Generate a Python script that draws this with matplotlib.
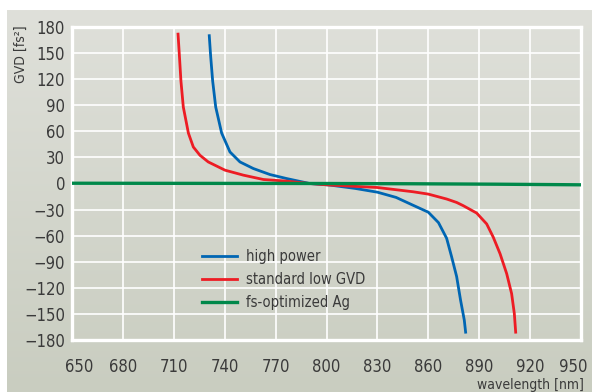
import numpy as np
import matplotlib
matplotlib.use("Agg")
import matplotlib.pyplot as plt
import matplotlib.transforms as mtransforms
from matplotlib.colors import LinearSegmentedColormap

# GVD curves read per mirror type
wl_high = [730.9, 731.7, 732.9, 734.7, 738.2, 743.1, 749, 756.9, 766.7, 776.5,
           790, 802, 817, 830, 841, 851, 860, 866, 870.8, 873.7, 876.7, 879,
           881.2, 882]
gvd_high = [170, 147, 118, 88, 58, 36.3, 24.8, 17.2, 10.3, 5.7,
            0, -1.8, -5.7, -10, -16, -25, -33, -45, -63, -84, -107, -134,
            -157, -171]

wl_std = [712.5, 713.3, 714.2, 715.6, 718.6, 721.5, 725.4, 730.3, 740.2, 751,
          762.8, 776.5, 790, 802, 830, 851, 860, 870.9, 876.7, 880.6, 888.5,
          894.4, 898.3, 902.3, 906.2, 909.1, 910.7, 911.5]
gvd_std = [171.8, 147, 118, 88, 58, 42, 32.5, 24.8, 15.3, 9.6,
           4.6, 2.7, 0, -1.8, -4.6, -9.5, -12.2, -17.9, -21.8, -25.5, -34,
           -46.5, -61.8, -80.8, -103.7, -126.6, -149.5, -171]

wl_ag = [650, 700, 750, 800, 850, 900, 950]
gvd_ag = [0.3, 0.2, 0.1, 0, -0.3, -0.8, -1.5]

x_ticks = [650, 680, 710, 740, 770, 800, 830, 860, 890, 920, 950]
y_ticks = [-180, -150, -120, -90, -60, -30, 0, 30, 60, 90, 120, 150, 180]

txt_color = "#3a3a3a"
plt.rcParams["font.family"] = ["DejaVu Sans"]
plt.rcParams["font.stretch"] = "condensed"

fig = plt.figure(figsize=(5.92, 3.92), dpi=100)
fig.patch.set_facecolor("white")

# gray panel with soft vertical gradient
bg = fig.add_axes([7 / 592, 0, 1 - 7 / 592, 1 - 10 / 392], zorder=0)
cmap = LinearSegmentedColormap.from_list("panel", ["#c9cdc0", "#dfe0da"])
grad = np.linspace(0, 1, 256).reshape(-1, 1)
bg.imshow(grad, aspect="auto", cmap=cmap, origin="lower", extent=[0, 1, 0, 1])
bg.axis("off")

ax = fig.add_axes([72 / 592, 1 - 340 / 392, (581 - 72) / 592, (340 - 27) / 392], zorder=1)
ax.set_facecolor("none")

ax.plot(wl_high, gvd_high, color="#0066b3", lw=2.0, label="high power",
        zorder=3, solid_joinstyle="round")
ax.plot(wl_std, gvd_std, color="#ed1c24", lw=2.0, label="standard low GVD",
        zorder=3, solid_joinstyle="round")
ax.plot(wl_ag, gvd_ag, color="#00884a", lw=2.4, label="fs-optimized Ag", zorder=4)

ax.set_xlim(650, 950)
ax.set_ylim(-180, 180)
ax.set_xticks(x_ticks)
ax.set_yticks(y_ticks)
ax.grid(True, color="white", lw=1.2)
ax.set_axisbelow(True)
for s in ax.spines.values():
    s.set_color("white")
    s.set_linewidth(2.4)
ax.tick_params(length=0, labelsize=12, labelcolor=txt_color)
ax.tick_params(axis="x", pad=13)
ax.tick_params(axis="y", pad=5)

# nudge the outer x labels inward so they stay inside the panel
xlabels = ax.get_xticklabels()
xlabels[0].set_transform(xlabels[0].get_transform()
                         + mtransforms.ScaledTranslation(7 / 100, 0, fig.dpi_scale_trans))
xlabels[-1].set_transform(xlabels[-1].get_transform()
                          + mtransforms.ScaledTranslation(-8 / 100, 0, fig.dpi_scale_trans))

leg = ax.legend(loc="center left", bbox_to_anchor=(0.255, 0.192), frameon=False,
                fontsize=10.5, handlelength=2.4, handletextpad=0.6,
                labelspacing=0.55, borderpad=0, borderaxespad=0)
for t in leg.get_texts():
    t.set_color(txt_color)

fig.text(21 / 592, 1 - 25 / 392, "GVD [fs²]", rotation=90, ha="center", va="top",
         fontsize=10, color=txt_color)
fig.text(584 / 592, 1 - 385 / 392, "wavelength [nm]", ha="right", va="center",
         fontsize=10, color=txt_color)

fig.savefig("out.png", dpi=100)
